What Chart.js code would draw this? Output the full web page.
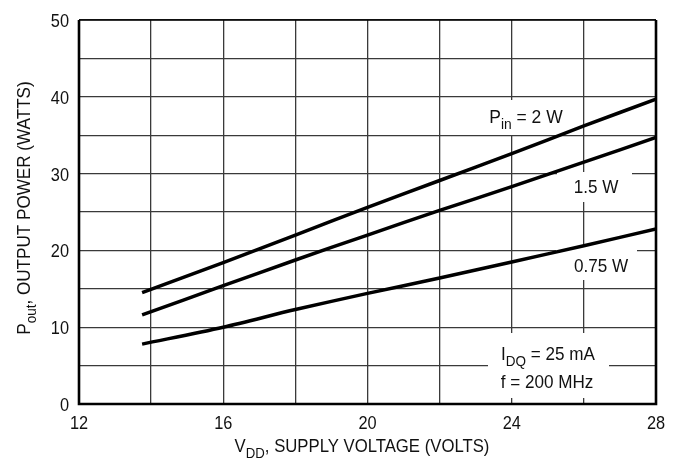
<!DOCTYPE html>
<html>
<head>
<meta charset="utf-8">
<script src="https://cdn.jsdelivr.net/npm/chart.js@4/dist/chart.umd.min.js"></script>
<style>
  html, body { margin: 0; padding: 0; background: #fff; }
  #wrap { width: 678px; height: 465px; position: relative; }
</style>
</head>
<body>
<div id="wrap"><canvas id="chart"></canvas></div>
<script>
// Supply voltage (V) and output power (W) for each input drive level
const voltage = [13.75, 16, 18, 20, 22, 24, 26, 28];
const pin2W   = [14.5, 18.4, 22.0, 25.6, 29.1, 32.6, 36.2, 39.7];
const pin15W  = [11.6, 15.4, 18.75, 22.0, 25.2, 28.3, 31.5, 34.7];
const pin075W = [7.8, 10.0, 12.3, 14.4, 16.4, 18.5, 20.6, 22.8];

// axis tick labels
const xTickLabels = [12, 16, 20, 24, 28];
const yTickLabels = [0, 10, 20, 30, 40, 50];

const FONT = '"Liberation Sans", Arial, sans-serif';

const toPoints = (ys) => voltage.map((v, i) => ({ x: v, y: ys[i] }));

// draw text with subscripts, squeezed horizontally by sx
// parts = [[text, isSub], ...]
function drawParts(ctx, parts, x, y, size, align, sx) {
  const subSize = Math.round(size * 0.8);
  let total = 0;
  parts.forEach(([t, sub]) => {
    ctx.font = (sub ? subSize : size) + 'px ' + FONT;
    total += ctx.measureText(t).width;
  });
  ctx.save();
  ctx.translate(x, y);
  ctx.scale(sx, 1);
  let cx = align === 'center' ? -total / 2 : (align === 'right' ? -total : 0);
  ctx.textAlign = 'left';
  ctx.textBaseline = 'alphabetic';
  parts.forEach(([t, sub]) => {
    ctx.font = (sub ? subSize : size) + 'px ' + FONT;
    ctx.fillText(t, cx, sub ? size * 0.3 : 0);
    cx += ctx.measureText(t).width;
  });
  ctx.restore();
}

const labelsPlugin = {
  id: 'labels',
  beforeDatasetsDraw(chart) {
    const ctx = chart.ctx;
    ctx.save();
    ctx.fillStyle = '#fff';
    // white boxes that break the grid behind the curve labels
    ctx.fillRect(484, 100, 86, 35);
    ctx.fillRect(557, 172, 75, 30);
    ctx.fillRect(556, 247, 81, 33);
    ctx.fillRect(488, 333, 121, 65);
    ctx.fillStyle = '#111';
    drawParts(ctx, [['P', false], ['in', true], [' = 2 W', false]], 526, 123, 19, 'center', 0.92);
    drawParts(ctx, [['1.5 W', false]], 596, 193, 19, 'center', 0.9);
    drawParts(ctx, [['0.75 W', false]], 601, 272, 19, 'center', 0.9);
    drawParts(ctx, [['I', false], ['DQ', true], [' = 25 mA', false]], 548, 360, 19, 'center', 0.9);
    drawParts(ctx, [['f = 200 MHz', false]], 547, 388, 19, 'center', 0.9);
    ctx.restore();
  },
  afterDraw(chart) {
    const ctx = chart.ctx;
    const a = chart.chartArea;
    const xs = chart.scales.x, ys = chart.scales.y;
    ctx.save();
    ctx.strokeStyle = '#000';
    ctx.lineWidth = 1.3;
    ctx.beginPath();
    ctx.moveTo(a.left, a.top); ctx.lineTo(a.right, a.top);
    ctx.stroke();
    ctx.lineWidth = 2.6;
    ctx.beginPath();
    ctx.moveTo(a.left, a.top);
    ctx.lineTo(a.left, a.bottom);
    ctx.lineTo(a.right, a.bottom);
    ctx.lineTo(a.right, a.top);
    ctx.stroke();
    // tick labels (condensed look)
    ctx.fillStyle = '#111';
    xTickLabels.forEach((v) => {
      drawParts(ctx, [[String(v), false]], xs.getPixelForValue(v), a.bottom + 25, 19, 'center', 0.86);
    });
    yTickLabels.forEach((v) => {
      drawParts(ctx, [[String(v), false]], a.left - 10, ys.getPixelForValue(v) + 7, 19, 'right', 0.86);
    });
    // axis titles
    drawParts(ctx, [['V', false], ['DD', true], [', SUPPLY VOLTAGE (VOLTS)', false]], 362, 452, 19, 'center', 0.88);
    ctx.translate(30, 208);
    ctx.rotate(-Math.PI / 2);
    drawParts(ctx, [['P', false], ['out', true], [', OUTPUT POWER (WATTS)', false]], 0, 0, 19, 'center', 0.9);
    ctx.restore();
  }
};

const lineStyle = { borderColor: '#000', borderWidth: 3.5, pointRadius: 0, tension: 0.3, fill: false };

new Chart(document.getElementById('chart'), {
  type: 'line',
  data: {
    datasets: [
      { label: 'Pin = 2 W', data: toPoints(pin2W), ...lineStyle },
      { label: '1.5 W', data: toPoints(pin15W), ...lineStyle },
      { label: '0.75 W', data: toPoints(pin075W), ...lineStyle },
    ],
  },
  options: {
    responsive: true,
    maintainAspectRatio: false,
    animation: false,
    layout: { padding: { left: 0, top: 20, right: 22, bottom: 0 } },
    plugins: { legend: { display: false }, tooltip: { enabled: false } },
    scales: {
      x: {
        type: 'linear',
        min: 12, max: 28,
        afterFit: (s) => { s.height = 61; },
        grid: { color: '#3a3a3a', lineWidth: 1.3, drawTicks: false },
        border: { display: false },
        ticks: { stepSize: 2, autoSkip: false, display: false },
      },
      y: {
        min: 0, max: 50,
        afterFit: (s) => { s.width = 79; },
        grid: { color: '#3a3a3a', lineWidth: 1.3, drawTicks: false },
        border: { display: false },
        ticks: { stepSize: 5, autoSkip: false, display: false },
      },
    },
  },
  plugins: [labelsPlugin],
});
</script>
</body>
</html>
